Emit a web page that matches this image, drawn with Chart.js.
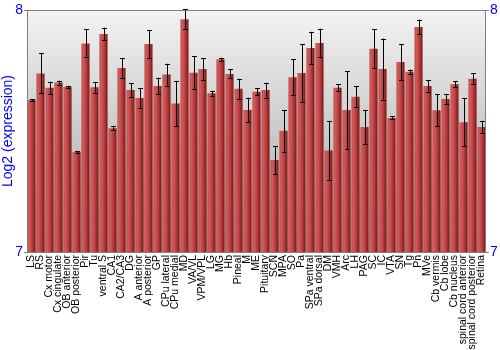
<!DOCTYPE html>
<html>
<head>
<meta charset="utf-8">
<script src="https://cdn.jsdelivr.net/npm/chart.js@4.4.1/dist/chart.umd.min.js"></script>
<style>
  html, body { margin: 0; padding: 0; background: #ffffff; }
  #chart-container { width: 500px; height: 350px; }
</style>
</head>
<body>
<div id="chart-container"><canvas id="myChart"></canvas></div>
<script>
// brain region expression chart

const regions = [
  "LS", "RS", "Cx motor", "Cx cingulate", "OB anterior", "OB posterior", "Pir", "Tu",
  "ventral S", "CA1", "CA2/CA3", "DG", "A anterior", "A posterior", "GP", "CPu lateral",
  "CPu medial", "MD", "VA/VL", "VPM/VPL", "LG", "MG", "Hb", "Pineal", "M", "ME",
  "Pituitary", "SCN", "MPA", "SO", "Pa", "SPa ventral", "SPa dorsal", "DM", "VMH", "Arc",
  "LH", "PAG", "SC", "IC", "VTA", "SN", "Tg", "Pn", "MVe", "Cb vermis", "Cb lobe",
  "Cb nucleus", "spinal cord anterior", "spinal cord posterior", "Retina"
];

const expression = [
  7.628, 7.738, 7.679, 7.700, 7.683, 7.413, 7.862, 7.681,
  7.901, 7.511, 7.760, 7.669, 7.636, 7.860, 7.686, 7.733,
  7.614, 7.962, 7.741, 7.756, 7.656, 7.796, 7.736, 7.675, 7.587, 7.662,
  7.669, 7.380, 7.501, 7.722, 7.740, 7.843, 7.864, 7.419, 7.679, 7.587,
  7.642, 7.517, 7.840, 7.756, 7.554, 7.785, 7.745, 7.930, 7.686, 7.586, 7.632,
  7.693, 7.536, 7.716, 7.517
];

const errors = [
  0.004, 0.083, 0.025, 0.008, 0.004, 0.004, 0.058, 0.022,
  0.026, 0.008, 0.040, 0.029, 0.040, 0.057, 0.035, 0.045,
  0.093, 0.041, 0.067, 0.045, 0.010, 0.007, 0.019, 0.041, 0.051, 0.014,
  0.031, 0.057, 0.086, 0.074, 0.119, 0.067, 0.059, 0.123, 0.015, 0.161,
  0.044, 0.070, 0.081, 0.126, 0.006, 0.074, 0.009, 0.030, 0.023, 0.066, 0.021,
  0.012, 0.100, 0.023, 0.025
];

const yTicks = [7, 8];

const blue = "#0000ff";
const frameGray = "#808080";

// gray gradient behind the bars + frame around the plot
const plotBackground = {
  id: "plotBackground",
  beforeDatasetsDraw(chart) {
    const { ctx, chartArea } = chart;
    const grad = ctx.createLinearGradient(0, chartArea.top, 0, chartArea.bottom);
    grad.addColorStop(0, "#f3f3f3");
    grad.addColorStop(1, "#a2a2a2");
    ctx.save();
    ctx.fillStyle = grad;
    ctx.fillRect(chartArea.left, chartArea.top, chartArea.width, chartArea.height);
    ctx.restore();

    // horizontal shading on every bar (light left, dark right)
    const meta = chart.getDatasetMeta(0);
    meta.data.forEach((bar) => {
      const w = bar.width;
      if (!isFinite(bar.x) || !isFinite(w)) return;
      const g = ctx.createLinearGradient(bar.x - w / 2, 0, bar.x + w / 2, 0);
      g.addColorStop(0, "#c04444");
      g.addColorStop(0.2, "#d25c5c");
      g.addColorStop(0.55, "#bb4040");
      g.addColorStop(1, "#7c1515");
      bar.options.backgroundColor = g;
    });
  },
  afterDraw(chart) {
    const { ctx, chartArea } = chart;
    ctx.save();
    ctx.strokeStyle = frameGray;
    ctx.lineWidth = 1;
    ctx.strokeRect(chartArea.left + 0.5, chartArea.top + 0.5, chartArea.width - 1, chartArea.height);
    ctx.restore();
  }
};

// error bars drawn through the y scale
const errorBars = {
  id: "errorBars",
  afterDatasetsDraw(chart) {
    const { ctx } = chart;
    const yScale = chart.scales.y;
    const meta = chart.getDatasetMeta(0);
    ctx.save();
    ctx.strokeStyle = "#000000";
    ctx.lineWidth = 1;
    meta.data.forEach((bar, i) => {
      const x = Math.round(bar.x) + 0.5;
      const yHi = yScale.getPixelForValue(expression[i] + errors[i]);
      const yLo = yScale.getPixelForValue(expression[i] - errors[i]);
      ctx.beginPath();
      ctx.moveTo(x, yHi);
      ctx.lineTo(x, yLo);
      ctx.moveTo(x - 2.5, Math.round(yHi) + 0.5);
      ctx.lineTo(x + 2.5, Math.round(yHi) + 0.5);
      ctx.moveTo(x - 2.5, Math.round(yLo) + 0.5);
      ctx.lineTo(x + 2.5, Math.round(yLo) + 0.5);
      ctx.stroke();
    });
    ctx.restore();
  }
};

const ctx = document.getElementById("myChart").getContext("2d");

const myChart = new Chart(ctx, {
  type: "bar",
  data: {
    labels: regions,
    datasets: [
      {
        label: "Log2 (expression)",
        data: expression,
        backgroundColor: (c) => "#c04545", // replaced by a gradient in the plugin
        borderWidth: 0,
        barPercentage: 0.9,
        categoryPercentage: 1.0,
        yAxisID: "y"
      }
    ]
  },
  options: {
    responsive: true,
    maintainAspectRatio: false,
    animation: false,
    layout: { padding: { top: 10, left: 0, right: 0, bottom: 0 } },
    plugins: {
      legend: { display: false },
      tooltip: { enabled: false }
    },
    scales: {
      x: {
        grid: { display: false, drawTicks: false },
        border: { display: false },
        ticks: {
          autoSkip: false,
          minRotation: 90,
          maxRotation: 90,
          padding: 3,
          color: "#000000",
          font: { family: "Liberation Sans, Arial", size: 10.5 }
        },
        afterFit(scale) { scale.height = 98; }
      },
      y: {
        position: "left",
        min: 7,
        max: 8,
        afterBuildTicks(scale) { scale.ticks = yTicks.map(v => ({ value: v })); },
        grid: { drawOnChartArea: false, tickLength: 3, color: frameGray },
        border: { display: false },
        ticks: {
          color: blue,
          padding: 1,
          font: { family: "Liberation Sans, Arial", size: 14 }
        },
        title: {
          display: true,
          text: "Log2 (expression)",
          color: blue,
          padding: 0,
          font: { family: "Liberation Sans, Arial", size: 14 }
        },
        afterFit(scale) { scale.width = 27; }
      },
      y2: {
        position: "right",
        min: 7,
        max: 8,
        afterBuildTicks(scale) { scale.ticks = yTicks.map(v => ({ value: v })); },
        grid: { drawOnChartArea: false, tickLength: 3, color: frameGray },
        border: { display: false },
        ticks: {
          color: blue,
          padding: 1,
          font: { family: "Liberation Sans, Arial", size: 14 }
        },
        afterFit(scale) { scale.width = 14; }
      }
    }
  },
  plugins: [plotBackground, errorBars]
});
</script>
</body>
</html>
